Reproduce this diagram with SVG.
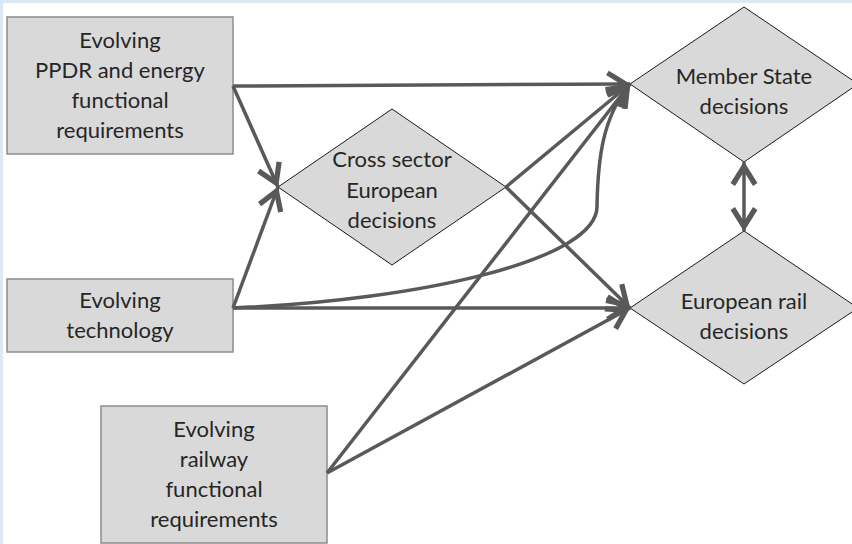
<svg xmlns="http://www.w3.org/2000/svg" width="852" height="544" viewBox="0 0 852 544">
<style>
.box{fill:#d9d9d9;stroke:#8c8c8c;stroke-width:1.5}
.dia{fill:#d9d9d9;stroke:#1a1a1a;stroke-width:1}
.lbl{font-family:Lato,"Open Sans","Liberation Sans",sans-serif;font-size:22px;fill:#262626;text-anchor:middle}
.con{fill:none;stroke:#595959;stroke-width:3.5}
</style>
<defs>
<marker id="ah" markerUnits="userSpaceOnUse" markerWidth="30" markerHeight="30" viewBox="-16 -10 20 20" refX="3" refY="0" orient="auto-start-reverse">
<path d="M-12,-7.5 L0,0 L-12,7.5" fill="none" stroke="#595959" stroke-width="3.5" stroke-linejoin="miter"/>
</marker>
</defs>
<rect x="0" y="0" width="852" height="544" fill="#ffffff"/>
<rect x="0" y="0" width="852" height="3" fill="#dce9f3"/>
<rect x="0" y="0" width="3" height="544" fill="#dce9f3"/>
<g id="n1"><rect class="box" x="7" y="17" width="226" height="137"/>
<text class="lbl"><tspan x="120" y="48">Evolving</tspan><tspan x="120" y="78">PPDR and energy</tspan><tspan x="120" y="108">functional</tspan><tspan x="120" y="138">requirements</tspan></text></g>
<g id="n2"><rect class="box" x="7" y="279" width="226" height="73"/>
<text class="lbl"><tspan x="120" y="308">Evolving</tspan><tspan x="120" y="338">technology</tspan></text></g>
<g id="n3"><rect class="box" x="101" y="406" width="226" height="137"/>
<text class="lbl"><tspan x="214" y="437">Evolving</tspan><tspan x="214" y="467">railway</tspan><tspan x="214" y="497">functional</tspan><tspan x="214" y="527">requirements</tspan></text></g>
<g id="n4"><polygon class="dia" points="392,109 506,187 392,265 278,187"/>
<text class="lbl"><tspan x="392" y="167">Cross sector</tspan><tspan x="392" y="198">European</tspan><tspan x="392" y="228">decisions</tspan></text></g>
<g id="n5"><polygon class="dia" points="744,7 858,84 744,162 630,84"/>
<text class="lbl"><tspan x="744" y="84">Member State</tspan><tspan x="744" y="114">decisions</tspan></text></g>
<g id="n6"><polygon class="dia" points="744,231 858,308 744,384 630,308"/>
<text class="lbl"><tspan x="744" y="309">European rail</tspan><tspan x="744" y="339">decisions</tspan></text></g>
<g id="connectors">
<path class="con" d="M233,86 L630,84" marker-end="url(#ah)"/>
<path class="con" d="M233,86 L278,187" marker-end="url(#ah)"/>
<path class="con" d="M233,308 L278,187" marker-end="url(#ah)"/>
<path class="con" d="M233,308 L630,308" marker-end="url(#ah)"/>
<path class="con" d="M233,308 C420,300 600,260 597,205 C598,160 602,118 630,84" marker-end="url(#ah)"/>
<path class="con" d="M506,187 L630,84" marker-end="url(#ah)"/>
<path class="con" d="M506,187 L630,308" marker-end="url(#ah)"/>
<path class="con" d="M327,473 L630,84" marker-end="url(#ah)"/>
<path class="con" d="M327,473 L630,308" marker-end="url(#ah)"/>
<path class="con" d="M744,162 L744,231" marker-start="url(#ah)" marker-end="url(#ah)"/>
</g>
</svg>
